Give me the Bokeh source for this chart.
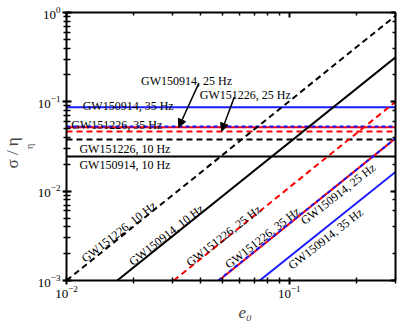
import math
from bokeh.plotting import figure
from bokeh.models import LogAxis, Label, Arrow, NormalHead, Range1d, FixedTicker, LogTickFormatter, Title
from bokeh.embed import file_html
from bokeh.resources import INLINE

# ---------------- data ----------------
e_span = [0.01, 0.3]
x_major_ticks = [0.01, 0.1]
x_minor_ticks = [0.02, 0.03, 0.04, 0.05, 0.06, 0.07, 0.08, 0.09, 0.2, 0.3]

# horizontal lines (sigma_eta / eta constant)
h_names = ["GW150914, 10 Hz", "GW151226, 10 Hz", "GW150914, 25 Hz",
           "GW151226, 25 Hz", "GW150914, 35 Hz", "GW151226, 35 Hz"]
h_sigma = [0.0245, 0.0379, 0.0519, 0.0465, 0.0867, 0.0528]

# diagonal lines (start / end points)
d_names = ["GW150914, 10 Hz", "GW151226, 10 Hz", "GW150914, 25 Hz",
           "GW151226, 25 Hz", "GW150914, 35 Hz", "GW151226, 35 Hz"]
d_e_start = [0.0169, 0.0100, 0.0483, 0.0303, 0.0737, 0.0480]
d_e_end = [0.3, 0.3, 0.3, 0.3, 0.3, 0.3]
d_sigma_start = [0.001, 0.001, 0.001, 0.001, 0.001, 0.001]
d_sigma_end = [0.315, 0.92, 0.039, 0.100, 0.0164, 0.039]

# styles
colors = ["black", "black", "#ff0000", "#ff0000", "#1a1aff", "#1a1aff"]
dashes = ["solid", "6 4", "solid", "6 4", "solid", "4 3"]
order = [0, 1, 3, 2, 4, 5]

FONT = "Liberation Serif"

p = figure(x_axis_type="log", y_axis_type="log",
           x_range=Range1d(0.01, 0.3), y_range=Range1d(0.001, 1.0),
           width=399, height=321,
           min_border_left=55, min_border_right=4, min_border_top=12, min_border_bottom=38,
           output_backend="svg", toolbar_location=None)
p.grid.visible = False
p.outline_line_color = None
p.background_fill_color = "white"
p.border_fill_color = "white"

for i in order:
    p.line(e_span, [h_sigma[i], h_sigma[i]], line_color=colors[i],
           line_dash=dashes[i], line_width=2)
for i in order:
    p.line([d_e_start[i], d_e_end[i]], [d_sigma_start[i], d_sigma_end[i]],
           line_color=colors[i], line_dash=dashes[i], line_width=2)

# axes styling
def style_axis(ax, mi, mo, ni, no, labels=True):
    ax.axis_line_width = 2
    ax.axis_line_color = "black"
    ax.major_tick_line_width = 2
    ax.minor_tick_line_width = 1.5
    ax.major_tick_in = mi
    ax.major_tick_out = mo
    ax.minor_tick_in = ni
    ax.minor_tick_out = no
    ax.major_label_text_font = FONT
    if labels:
        ax.major_label_text_font_size = "13px"
        ax.major_label_text_color = "black"
        ax.major_label_standoff = 2
    else:
        ax.major_label_text_font_size = "1px"
        ax.major_label_text_color = None
        ax.major_label_standoff = 0

xt = FixedTicker(ticks=x_major_ticks, minor_ticks=x_minor_ticks)
p.xaxis[0].ticker = xt
p.xaxis[0].formatter = LogTickFormatter()
style_axis(p.xaxis[0], 3, 4, 3, 3)
style_axis(p.yaxis[0], 5, 4, 4, 3)
p.xaxis[0].major_label_standoff = 1

top = LogAxis(ticker=FixedTicker(ticks=x_major_ticks, minor_ticks=x_minor_ticks))
style_axis(top, 5, 0, 3, 0, labels=False)
p.add_layout(top, "above")
right = LogAxis()
style_axis(right, 5, 0, 3, 0, labels=False)
p.add_layout(right, "right")

# y axis title: subscript (inner) and main text (outer) as side titles
p.add_layout(Title(text="η", text_font=FONT, text_font_size="10px",
                   text_font_style="normal", align="center", offset=21, standoff=0), "left")
p.add_layout(Title(text="σ   /  η", text_font=FONT, text_font_size="17px",
                   text_font_style="normal", align="center", offset=7, standoff=0), "left")

# x axis title
p.add_layout(Title(text="e₀", text_font=FONT, text_font_size="17px",
                   text_font_style="italic", align="left", offset=172, standoff=0), "below")

# horizontal labels (left / baseline)
hl_text = ["GW150914, 35 Hz", "GW151226, 35 Hz", "GW151226, 10 Hz", "GW150914, 10 Hz",
           "GW150914, 25 Hz", "GW151226, 25 Hz"]
hl_x = [0.01182, 0.01051, 0.01143, 0.01143, 0.02162, 0.0397]
hl_y = [0.0905, 0.0556, 0.0300, 0.01942, 0.173, 0.1178]
for t, x, y in zip(hl_text, hl_x, hl_y):
    p.add_layout(Label(x=x, y=y, text=t, text_font=FONT, text_font_size="12px",
                       text_align="left", text_baseline="alphabetic", text_color="black"))

# rotated labels along diagonals
rl_text = ["GW151226, 10 Hz", "GW150914, 10 Hz", "GW151226, 25 Hz",
           "GW151226, 35 Hz", "GW150914, 35 Hz", "GW150914, 25 Hz"]
rl_x = [0.01186, 0.01939, 0.03505, 0.05236, 0.1005, 0.1145]
rl_y = [0.00170, 0.00157, 0.001535, 0.001458, 0.001421, 0.00451]
for t, x, y in zip(rl_text, rl_x, rl_y):
    p.add_layout(Label(x=x, y=y, text=t, text_font=FONT, text_font_size="12px",
                       angle=math.radians(38), text_align="left",
                       text_baseline="alphabetic", text_color="black"))

# arrows
ar_x0 = [0.0393, 0.0567]
ar_y0 = [0.162, 0.1131]
ar_x1 = [0.0319, 0.0497]
ar_y1 = [0.0519, 0.0468]
for a, b, c, d in zip(ar_x0, ar_y0, ar_x1, ar_y1):
    p.add_layout(Arrow(x_start=a, y_start=b, x_end=c, y_end=d, line_width=1.5,
                       line_color="black",
                       end=NormalHead(size=8, fill_color="black", line_color="black")))

open("out.html", "w").write(file_html(p, INLINE))
